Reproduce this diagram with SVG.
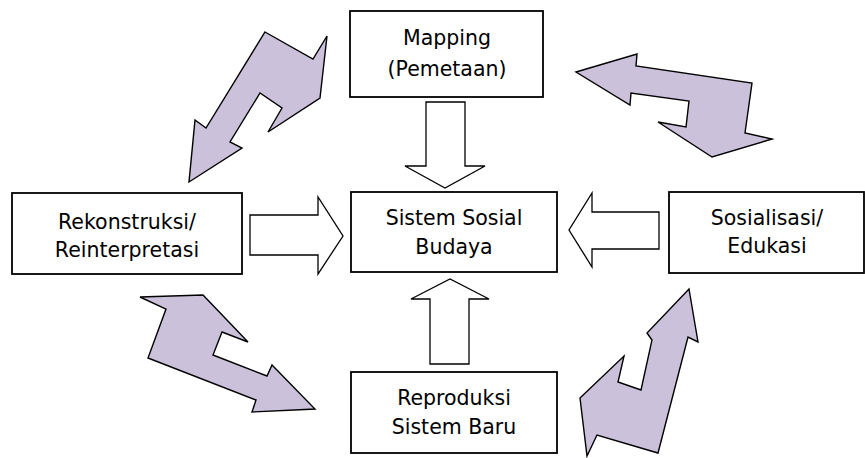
<svg xmlns="http://www.w3.org/2000/svg" width="865" height="458" viewBox="0 0 865 458">
<style>
.box{fill:#fff;stroke:#000;stroke-width:1.8}
.wa{fill:#fff;stroke:#000;stroke-width:1.3;stroke-linejoin:miter}
.pa{fill:#CCC1DA;stroke:#000;stroke-width:1.4;stroke-linejoin:miter}
.t{font-family:"DejaVu Sans",Tahoma,sans-serif;font-size:20.5px;fill:#000;text-anchor:middle}
</style>
<rect width="865" height="458" fill="#fff"/>
<g id="connectors">
<polygon class="wa" points="426,102 465,102 465,166 485,166 445,188 405,166 426,166"/>
<polygon class="wa" points="659,212 659,249 592,249 592,267 569,230 592,193 592,212"/>
<polygon class="wa" points="430,364 469,364 469,299 489,299 450,279 411,299 430,299"/>
<polygon class="wa" points="250,215 250,255 318,255 318,274 343,236 318,197 318,215"/>
<polygon class="pa" points="265,32 313,59 327,36 320,98 268,132 282,108 260,93 230,142 242,148 189,182 195,120 206,128"/>
<polygon class="pa" points="576,72 637,54 636,66 752,83 745,133 772,139 712,157 658,122 686,127 689,101 631,93 630,105"/>
<polygon class="pa" points="140,297 203,295 248,342 222,332 213,355 267,376 272,365 315,409 252,412 256,400 148,358 166,309"/>
<polygon class="pa" points="689,289 698,342 688,337 658,453 597,435 587,456 580,398 624,356 618,382 641,390 652,340 647,333"/>
</g>
<g id="mapping">
<rect class="box" x="350" y="11" width="193" height="86"/>
<text class="t" x="447" y="45">Mapping</text>
<text class="t" x="447" y="76">(Pemetaan)</text>
</g>
<g id="sistem">
<rect class="box" x="351" y="192" width="206" height="80"/>
<text class="t" x="454" y="225">Sistem Sosial</text>
<text class="t" x="454" y="254">Budaya</text>
</g>
<g id="rekonstruksi">
<rect class="box" x="12" y="193" width="230" height="81"/>
<text class="t" x="127" y="229">Rekonstruksi/</text>
<text class="t" x="127" y="257">Reinterpretasi</text>
</g>
<g id="sosialisasi">
<rect class="box" x="669" y="192" width="195" height="81"/>
<text class="t" x="767" y="225">Sosialisasi/</text>
<text class="t" x="767" y="253">Edukasi</text>
</g>
<g id="reproduksi">
<rect class="box" x="351" y="372" width="206" height="81"/>
<text class="t" x="454" y="405">Reproduksi</text>
<text class="t" x="454" y="434">Sistem Baru</text>
</g>
</svg>
